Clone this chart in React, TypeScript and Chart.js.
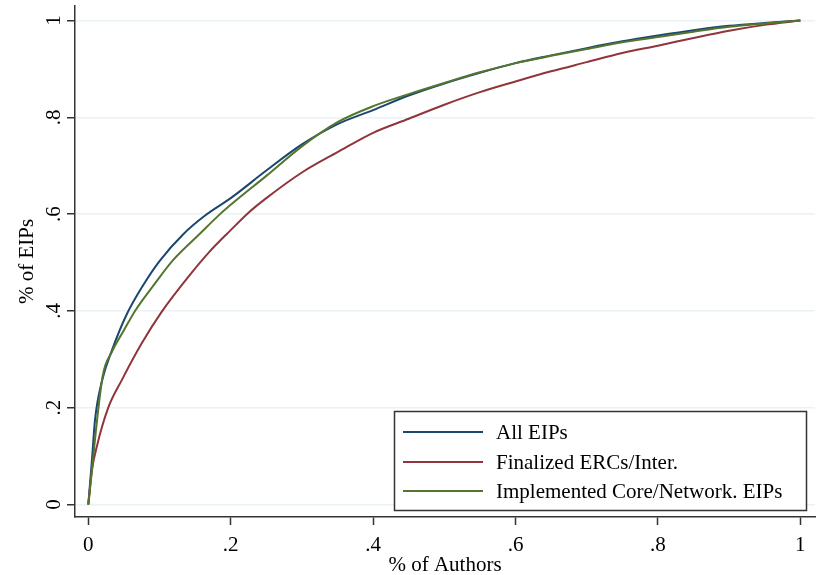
import { useEffect, useRef } from 'react';
import { Chart, registerables } from 'chart.js';

Chart.register(...registerables);

const seriesLabels = ['All EIPs', 'Finalized ERCs/Inter.', 'Implemented Core/Network. EIPs'];
const seriesColors = ['#1a476f', '#90353b', '#55752f'];

const allX = [0, 0.005, 0.0094, 0.02, 0.033, 0.054, 0.077, 0.1, 0.133, 0.164, 0.2, 0.25, 0.3, 0.35, 0.4, 0.45, 0.5, 0.55, 0.6, 0.65, 0.7, 0.75, 0.8, 0.85, 0.9, 0.95, 1];
const allY = [0, 0.09, 0.175, 0.26, 0.318, 0.393, 0.453, 0.503, 0.558, 0.597, 0.633, 0.69, 0.744, 0.786, 0.815, 0.845, 0.87, 0.892, 0.912, 0.928, 0.943, 0.957, 0.969, 0.98, 0.989, 0.995, 1];

const finX = [0, 0.005, 0.012, 0.028, 0.047, 0.075, 0.103, 0.143, 0.17, 0.2, 0.225, 0.25, 0.3, 0.35, 0.4, 0.45, 0.5, 0.55, 0.6, 0.65, 0.7, 0.75, 0.8, 0.85, 0.9, 0.95, 1];
const finY = [0, 0.07, 0.12, 0.2, 0.257, 0.333, 0.398, 0.475, 0.522, 0.567, 0.603, 0.633, 0.686, 0.728, 0.768, 0.797, 0.826, 0.852, 0.874, 0.895, 0.914, 0.933, 0.948, 0.964, 0.979, 0.991, 1];

const implX = [0, 0.02, 0.033, 0.05, 0.0656, 0.0937, 0.119, 0.157, 0.185, 0.208, 0.25, 0.3, 0.35, 0.4, 0.45, 0.5, 0.55, 0.6, 0.65, 0.7, 0.75, 0.8, 0.85, 0.9, 0.95, 1];
const implY = [0, 0.264, 0.315, 0.36, 0.4, 0.457, 0.505, 0.56, 0.6, 0.629, 0.679, 0.74, 0.79, 0.823, 0.848, 0.871, 0.893, 0.912, 0.927, 0.941, 0.955, 0.966, 0.977, 0.987, 0.994, 1];

const xTicks = [0, 0.2, 0.4, 0.6, 0.8, 1];
const xTickLabels = ['0', '.2', '.4', '.6', '.8', '1'];
const yTicks = [0, 0.2, 0.4, 0.6, 0.8, 1];
const yTickLabels = ['0', '.2', '.4', '.6', '.8', '1'];
const xTitle = '% of Authors';
const yTitle = '% of EIPs';

const FONT = "21px 'Liberation Serif', 'Times New Roman', serif";
const AXIS_COLOR = '#333333';
const GRID_COLOR = '#eaf2f3';

const pairs = (xs: number[], ys: number[]) => xs.map((x, i) => ({ x, y: ys[i] }));

const textPlugin = {
  id: 'stataText',
  afterDraw(chart: any) {
    const ctx = chart.ctx as CanvasRenderingContext2D;
    const xs = chart.scales.x;
    const ys = chart.scales.y;
    const area = chart.chartArea;
    ctx.save();
    ctx.fillStyle = '#000';
    ctx.font = FONT;
    ctx.textBaseline = 'alphabetic';
    ctx.textAlign = 'center';
    xTicks.forEach((v, i) => {
      ctx.fillText(xTickLabels[i], xs.getPixelForValue(v), area.bottom + 34);
    });
    ctx.fillText(xTitle, (area.left + area.right) / 2, area.bottom + 54);
    yTicks.forEach((v, i) => {
      ctx.save();
      ctx.translate(area.left - 15, ys.getPixelForValue(v));
      ctx.rotate(-Math.PI / 2);
      ctx.fillText(yTickLabels[i], 0, 0);
      ctx.restore();
    });
    ctx.save();
    ctx.translate(area.left - 42, (area.top + area.bottom) / 2);
    ctx.rotate(-Math.PI / 2);
    ctx.fillText(yTitle, 0, 0);
    ctx.restore();

    // legend box
    const bx = 394.5, by = 411.5, bw = 412, bh = 99;
    ctx.fillStyle = '#ffffff';
    ctx.fillRect(bx, by, bw, bh);
    ctx.strokeStyle = AXIS_COLOR;
    ctx.lineWidth = 1.5;
    ctx.strokeRect(bx, by, bw, bh);
    const rows = [432, 462, 491];
    chart.data.datasets.forEach((ds: any) => {
      const idx = seriesLabels.indexOf(ds.label);
      const ry = rows[idx];
      ctx.strokeStyle = ds.borderColor;
      ctx.lineWidth = 2;
      ctx.beginPath();
      ctx.moveTo(403, ry);
      ctx.lineTo(483, ry);
      ctx.stroke();
      ctx.fillStyle = '#000';
      ctx.textAlign = 'left';
      ctx.textBaseline = 'middle';
      ctx.fillText(ds.label, 496, ry + 1);
    });
    ctx.restore();
  },
};

export default function App() {
  const ref = useRef<HTMLCanvasElement>(null);
  useEffect(() => {
    if (!ref.current) return;
    const datasets = [
      { label: seriesLabels[0], data: pairs(allX, allY), borderColor: seriesColors[0], order: 3 },
      { label: seriesLabels[1], data: pairs(finX, finY), borderColor: seriesColors[1], order: 2 },
      { label: seriesLabels[2], data: pairs(implX, implY), borderColor: seriesColors[2], order: 1 },
    ].map((d) => ({
      ...d,
      backgroundColor: d.borderColor,
      borderWidth: 2,
      pointRadius: 0,
      fill: false,
      cubicInterpolationMode: 'monotone' as const,
    }));
    const chart = new Chart(ref.current, {
      type: 'line',
      data: { datasets },
      options: {
        animation: false,
        responsive: false,
        maintainAspectRatio: false,
        layout: { padding: { left: 0, top: 6, right: 2, bottom: 0 } },
        plugins: { legend: { display: false }, tooltip: { enabled: false } },
        scales: {
          x: {
            type: 'linear',
            min: -0.0187,
            max: 1.0206,
            afterBuildTicks: (s: any) => {
              s.ticks = xTicks.map((v) => ({ value: v }));
            },
            afterFit: (s: any) => {
              s.height = 58;
            },
            ticks: { display: false },
            grid: {
              display: true,
              drawOnChartArea: false,
              drawTicks: true,
              tickLength: 8,
              tickColor: AXIS_COLOR,
              tickWidth: 1.5,
            },
            border: { display: true, color: AXIS_COLOR, width: 1.5 },
          },
          y: {
            type: 'linear',
            min: -0.0258,
            max: 1.03,
            afterBuildTicks: (s: any) => {
              s.ticks = yTicks.map((v) => ({ value: v }));
            },
            afterFit: (s: any) => {
              s.width = 75;
            },
            ticks: { display: false },
            grid: {
              display: true,
              drawOnChartArea: true,
              drawTicks: true,
              tickLength: 8,
              color: GRID_COLOR,
              lineWidth: 1.5,
              tickColor: AXIS_COLOR,
              tickWidth: 1.5,
            },
            border: { display: true, color: AXIS_COLOR, width: 1.5 },
          },
        },
      },
      plugins: [textPlugin],
    });
    return () => chart.destroy();
  }, []);
  return (
    <div style={{ position: 'absolute', left: 0, top: 0, width: 817, height: 575, background: '#fff' }}>
      <canvas ref={ref} width={817} height={575} />
    </div>
  );
}
